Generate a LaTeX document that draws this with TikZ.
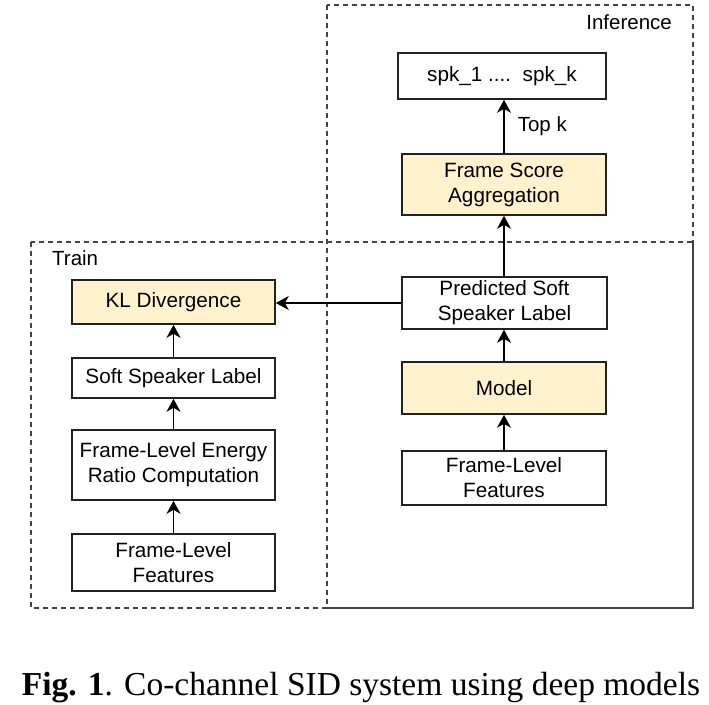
\documentclass[tikz,border=0pt]{standalone}
\usepackage{fontspec}
\setmainfont{Liberation Serif}
\newfontfamily\diagfont{Liberation Sans}
\usetikzlibrary{arrows.meta}
\definecolor{boxyellow}{HTML}{FFF2CC}
\definecolor{boxline}{HTML}{222222}
\begin{document}
\begin{tikzpicture}[x=1pt,y=-1pt,
  blk/.style={draw=boxline,line width=1.6pt,fill=white,align=center,inner sep=0pt,
    font=\diagfont\fontsize{20.7}{25}\selectfont},
  yblk/.style={blk,fill=boxyellow},
  frame/.style={draw=boxline!85,line width=1.5pt,dash pattern=on 5pt off 4pt},
  conn/.style={draw=black,line width=1.6pt,-{Stealth[length=13pt,width=14pt,inset=4pt]}},
  lbl/.style={font=\diagfont\fontsize{20.5}{25}\selectfont,inner sep=0pt}]
\useasboundingbox (0,0) rectangle (709,704);
% dashed regions
\draw[frame] (327,5) rectangle (693,608);
\draw[frame] (31,242) rectangle (693,608);
\node[lbl,anchor=east] (inf) at (672,22) {Inference};
\node[lbl,anchor=west] (train) at (52,258) {Train};
% right column
\node[blk,minimum width=208pt,minimum height=46pt] (spk) at (502,76) {spk\_1 ....~~spk\_k};
\node[yblk,minimum width=204pt,minimum height=61pt] (fsa) at (504,184.5) {Frame Score\\Aggregation};
\node[blk,minimum width=205pt,minimum height=52pt] (pred) at (504.5,303) {Predicted Soft\\Speaker Label};
\node[yblk,minimum width=204pt,minimum height=52pt] (model) at (504,388) {Model};
\node[blk,minimum width=204pt,minimum height=54pt] (featR) at (504,478) {Frame-Level\\Features};
% left column
\node[yblk,minimum width=203pt,minimum height=44pt] (kl) at (173.5,302) {KL Divergence};
\node[blk,minimum width=203pt,minimum height=40pt] (ssl) at (173.5,378) {Soft Speaker Label};
\node[blk,minimum width=203pt,minimum height=70pt] (energy) at (173.5,465) {Frame-Level Energy\\Ratio Computation};
\node[blk,minimum width=203pt,minimum height=57pt] (featL) at (173.5,562.5) {Frame-Level\\Features};
% connectors
\draw[conn] (featL) -- (energy);
\draw[conn] (energy) -- (ssl);
\draw[conn] (ssl) -- (kl);
\draw[conn] (featR.north -| model) -- (model);
\draw[conn] (model) -- (pred.south -| model);
\draw[conn] (pred.north -| fsa) -- (fsa);
\draw[conn] (fsa) -- node[lbl,anchor=west,xshift=13pt] (topk) {Top k} (spk.south -| fsa);
\draw[conn] (pred.west) -- (kl.east |- pred.west);
% caption
\node[font=\fontsize{33.5}{38}\selectfont,inner sep=0pt,anchor=base] (cap) at (361,695)
  {\textbf{Fig. 1}. Co-channel SID system using deep models};
\end{tikzpicture}
\end{document}
